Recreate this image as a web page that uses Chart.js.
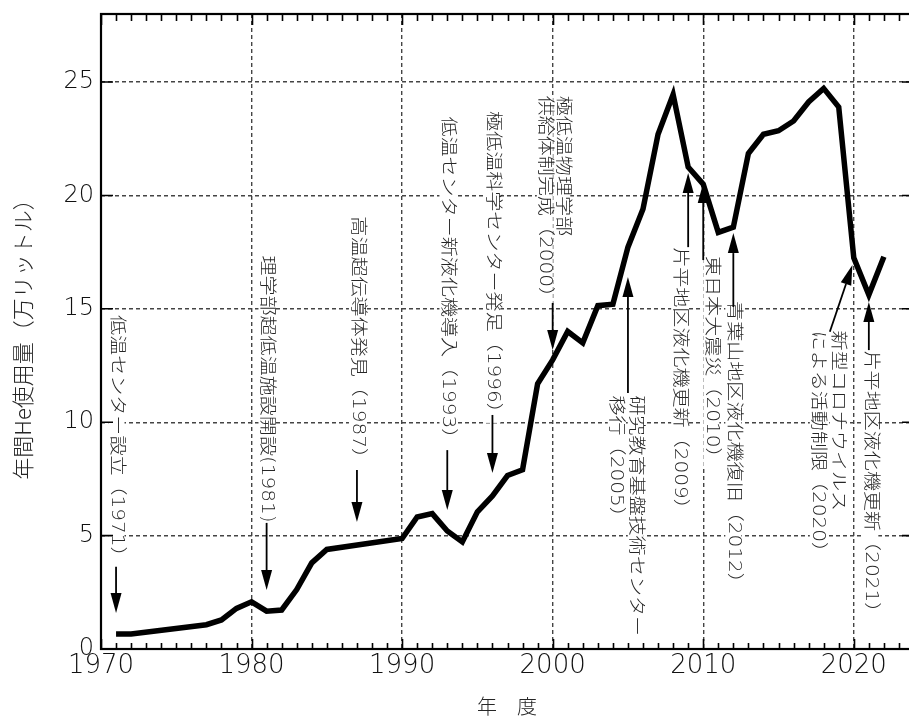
<!DOCTYPE html>
<html>
<head>
<meta charset="utf-8">
<script src="https://cdn.jsdelivr.net/npm/chart.js@4.4.1/dist/chart.umd.min.js"></script>
<style>
  html, body { margin: 0; padding: 0; overflow: hidden; background: #fff; }
  #wrap { width: 914px; height: 717px; }
</style>
</head>
<body>
<div id="wrap"><canvas id="c" width="914" height="717"></canvas></div>
<script>
// 年度ごとの液体ヘリウム使用量（万リットル）
const years = [1971, 1972, 1977, 1978, 1979, 1980, 1981, 1982, 1983, 1984, 1985,
  1990, 1991, 1992, 1993, 1994, 1995, 1996, 1997, 1998, 1999, 2000,
  2001, 2002, 2003, 2004, 2005, 2006, 2007, 2008, 2009, 2010,
  2011, 2012, 2013, 2014, 2015, 2016, 2017, 2018, 2019, 2020, 2021, 2022];
const usage = [0.66, 0.66, 1.07, 1.28, 1.79, 2.08, 1.67, 1.72, 2.62, 3.8, 4.39,
  4.87, 5.82, 5.97, 5.2, 4.72, 6.05, 6.75, 7.65, 7.9, 11.7, 12.75,
  14.0, 13.5, 15.14, 15.2, 17.72, 19.4, 22.7, 24.45, 21.25, 20.5,
  18.37, 18.6, 21.85, 22.7, 22.85, 23.28, 24.12, 24.72, 23.9, 17.25, 15.62, 17.3];

// 軸目盛
const xTicks = [1970, 1980, 1990, 2000, 2010, 2020];
const yTicks = [0, 5, 10, 15, 20, 25];

// 出来事
const eventYears = [1971, 1981, 1987, 1993, 1996, 2000, 2005, 2009, 2010, 2012, 2020, 2021];
const eventLabels = [
  ['低温センター設立（1971）'],
  ['理学部超低温施設開設(1981)'],
  ['高温超伝導体発見（1987）'],
  ['低温センター新液化機導入（1993）'],
  ['極低温科学センター発足（1996）'],
  ['極低温物理学部', '供給体制完成（2000）'],
  ['研究教育基盤技術センター', '移行（2005）'],
  ['片平地区液化機更新（2009）'],
  ['東日本大震災（2010）'],
  ['青葉山地区液化機復旧（2012）'],
  ['新型コロナウイルス', 'による活動制限（2020）'],
  ['片平地区液化機更新（2021）']
];

// 注記の配置（軸の座標系で指定）: tx = 先頭行の位置(年), ty = 文字列の始点/終点(値)
const calloutLayout = [
  { tx: 1971.03, ty: 3.63, align: 'end',   tip: 1.59, tail: 3.63 },
  { tx: 1980.99, ty: 5.57, align: 'end',   tip: 2.60, tail: 5.56 },
  { tx: 1987.00, ty: 7.98, align: 'end',   tip: 5.60, tail: 7.89 },
  { tx: 1993.01, ty: 8.85, align: 'end',   tip: 6.13, tail: 8.77 },
  { tx: 1996.00, ty: 9.97, align: 'end',   tip: 7.76, tail: 10.32 },
  { tx: 2000.64, ty: 24.40, align: 'start', tip: 13.18, tail: 15.26, gap: 17.5 },
  { tx: 2005.52, ty: 11.18, align: 'start', tip: 16.40, tail: 11.29, gap: 20 },
  { tx: 2008.40, ty: 17.72, align: 'start', tip: 20.99, tail: 17.72 },
  { tx: 2010.54, ty: 17.33, align: 'start', tip: 20.55, tail: 17.15 },
  { tx: 2012.00, ty: 15.34, align: 'start', tip: 18.34, tail: 15.08 },
  { tx: 2018.94, ty: 14.04, align: 'start', tip: 16.93, tail: 13.99, tailX: 2018.41, tipX: 2019.91, gap: 20 },
  { tx: 2021.10, ty: 13.16, align: 'start', tip: 15.30, tail: 13.18 }
];

const NOTE_FONT = '300 17px "DejaVu Sans", "Noto Sans CJK JP", sans-serif';
const NOTE_STRETCH = 1.18;

function verticalText(ctx, lines, x, y, align, gap) {
  ctx.save();
  ctx.translate(x, y);
  ctx.rotate(Math.PI / 2);
  ctx.scale(NOTE_STRETCH, 1);
  ctx.font = NOTE_FONT;
  ctx.textBaseline = 'middle';
  ctx.textAlign = 'left';
  lines.forEach((s, i) => {
    const w = ctx.measureText(s).width;
    const x0 = align === 'end' ? -w : 0;
    const yy = i * gap;
    ctx.fillStyle = '#fff';
    ctx.fillRect(x0, yy - 8, w, 16);
    ctx.fillStyle = '#262626';
    ctx.fillText(s, x0, yy);
  });
  ctx.restore();
}

function arrow(ctx, x1, y1, x2, y2) {
  const ang = Math.atan2(y2 - y1, x2 - x1);
  const L = 20, W = 5.5;
  const bx = x2 - L * Math.cos(ang), by = y2 - L * Math.sin(ang);
  ctx.strokeStyle = '#000';
  ctx.fillStyle = '#000';
  ctx.lineWidth = 1.8;
  ctx.beginPath();
  ctx.moveTo(x1, y1);
  ctx.lineTo(bx, by);
  ctx.stroke();
  ctx.beginPath();
  ctx.moveTo(x2, y2);
  ctx.lineTo(bx + W * Math.sin(ang), by - W * Math.cos(ang));
  ctx.lineTo(bx - W * Math.sin(ang), by + W * Math.cos(ang));
  ctx.closePath();
  ctx.fill();
}

const decorations = {
  id: 'decorations',
  afterDatasetsDraw(chart) {
    const { ctx, chartArea: a, scales: { x, y } } = chart;

    // 注記と矢印
    eventLabels.forEach((lines, i) => {
      const L = calloutLayout[i];
      verticalText(ctx, lines, x.getPixelForValue(L.tx), y.getPixelForValue(L.ty), L.align, L.gap || 18);
    });
    eventYears.forEach((yr, i) => {
      const L = calloutLayout[i];
      arrow(ctx,
        x.getPixelForValue(L.tailX !== undefined ? L.tailX : yr), y.getPixelForValue(L.tail),
        x.getPixelForValue(L.tipX !== undefined ? L.tipX : yr), y.getPixelForValue(L.tip));
    });

    // 枠と内向きの目盛
    ctx.save();
    ctx.strokeStyle = '#000';
    ctx.lineWidth = 1.6;
    ctx.beginPath();
    for (let yr = Math.ceil(x.min); yr <= x.max; yr++) {
      const px = Math.round(x.getPixelForValue(yr)) + 0.5;
      const major = yr % 10 === 0;
      ctx.moveTo(px, a.bottom); ctx.lineTo(px, a.bottom - (major ? 10 : 6));
      ctx.moveTo(px, a.top); ctx.lineTo(px, a.top + (major ? 11 : 7));
    }
    yTicks.forEach(v => {
      const py = y.getPixelForValue(v);
      ctx.moveTo(a.left, py); ctx.lineTo(a.left + 12, py);
      ctx.moveTo(a.right, py); ctx.lineTo(a.right - 12, py);
    });
    ctx.stroke();
    ctx.lineWidth = 2.2;
    ctx.strokeRect(a.left, a.top, a.right - a.left, a.bottom - a.top);

    // 軸タイトル
    ctx.fillStyle = '#262626';
    ctx.textAlign = 'center';
    ctx.textBaseline = 'middle';
    ctx.font = '300 22px "Noto Sans CJK JP", sans-serif';
    ctx.save();
    ctx.translate(23, 334);
    ctx.rotate(-Math.PI / 2);
    ctx.fillText('年間He使用量（万リットル）', 0, 0);
    ctx.restore();
    ctx.font = '300 20px "Noto Sans CJK JP", sans-serif';
    ctx.fillText('年　度', 507, 706);
    ctx.restore();
  }
};

new Chart(document.getElementById('c'), {
  type: 'line',
  data: {
    datasets: [{
      data: years.map((yr, i) => ({ x: yr, y: usage[i] })),
      borderColor: '#000',
      borderWidth: 5.5,
      borderJoinStyle: 'miter',
      borderCapStyle: 'butt',
      pointRadius: 0,
      tension: 0,
      fill: false
    }]
  },
  options: {
    responsive: false,
    animation: false,
    devicePixelRatio: 1,
    layout: { padding: { top: 14, left: 0, right: 0, bottom: 0 } },
    plugins: { legend: { display: false }, tooltip: { enabled: false } },
    scales: {
      x: {
        type: 'linear',
        min: 1970,
        max: 2024,
        afterBuildTicks: s => { s.ticks = xTicks.map(v => ({ value: v })); },
        afterFit: s => { s.height = 68; s.paddingRight = 0; },
        ticks: {
          color: '#111',
          padding: 2,
          font: { family: '"DejaVu Sans", sans-serif', size: 26, weight: 300 },
          callback: v => String(v)
        },
        grid: { color: '#444', lineWidth: 1.4, drawTicks: false },
        border: { display: false, dash: [4, 3] }
      },
      y: {
        min: 0,
        max: 28,
        afterBuildTicks: s => { s.ticks = yTicks.map(v => ({ value: v })); },
        afterFit: s => { s.width = 101; s.paddingTop = 0; s.paddingBottom = 0; },
        ticks: {
          color: '#111',
          padding: 7,
          font: { family: '"DejaVu Sans", sans-serif', size: 24, weight: 300 },
          callback: v => String(v)
        },
        grid: { color: '#444', lineWidth: 1.4, drawTicks: false },
        border: { display: false, dash: [4, 3] }
      }
    }
  },
  plugins: [decorations]
});
</script>
</body>
</html>
